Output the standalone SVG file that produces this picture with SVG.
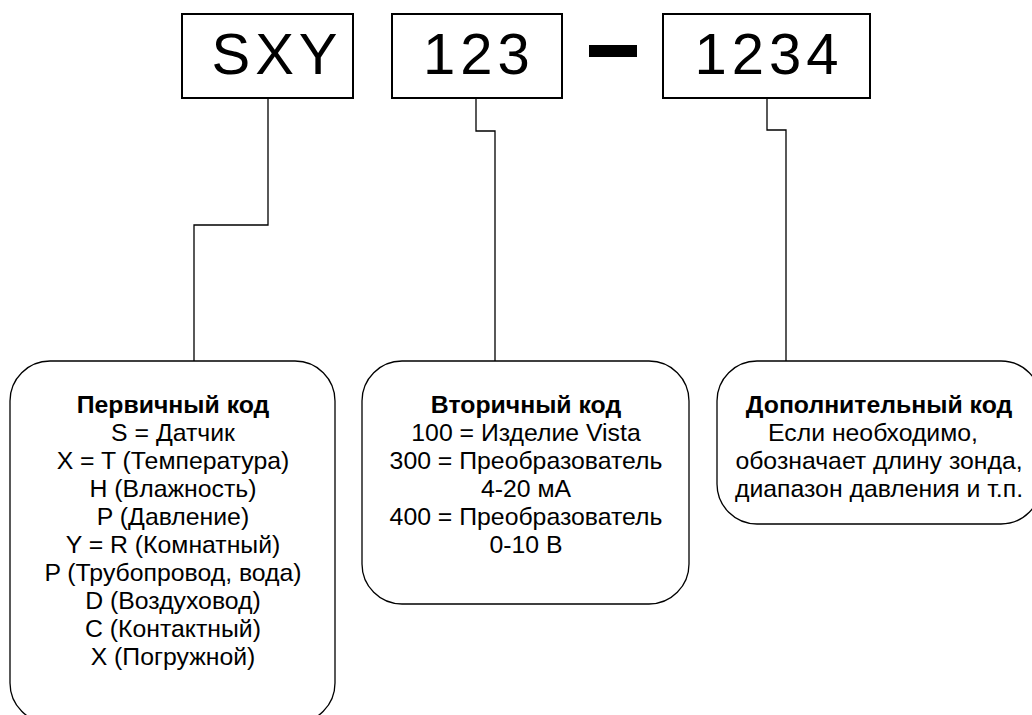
<svg xmlns="http://www.w3.org/2000/svg" width="1032" height="715" viewBox="0 0 1032 715">
<style>
.code{fill:#fff;stroke:#000;stroke-width:2}
.big{font-family:"Liberation Sans",Arial,sans-serif;font-size:58px;letter-spacing:5px;text-anchor:middle;fill:#000}
.card{fill:#fff;stroke:#000;stroke-width:1.3}
.t{font-family:"Liberation Sans",Arial,sans-serif;font-size:24.8px;text-anchor:middle;fill:#000}
.b{font-weight:bold}
.wire{fill:none;stroke:#000;stroke-width:1.3}
</style>
<rect width="1032" height="715" fill="#fff"/>
<g id="connectors">
<polyline class="wire" points="268,98 268,225 194,225 194,361"/>
<polyline class="wire" points="476,98 476,131 495,131 495,361"/>
<polyline class="wire" points="767,98 767,130 786,130 786,361"/>
</g>
<g id="code-sxy">
<rect class="code" x="182" y="14" width="171" height="84"/>
<text class="big" x="277" y="74">SXY</text>
</g>
<g id="code-123">
<rect class="code" x="392" y="14" width="170" height="84"/>
<text class="big" x="479" y="74">123</text>
</g>
<g id="dash">
<rect x="589" y="45" width="48" height="12" fill="#000"/>
</g>
<g id="code-1234">
<rect class="code" x="663" y="14" width="207" height="84"/>
<text class="big" x="769" y="74">1234</text>
</g>
<g id="primary">
<rect class="card" x="10" y="361" width="325" height="362" rx="40" ry="40"/>
<text class="t" x="173" y="413"><tspan class="b">Первичный код</tspan><tspan x="173" dy="28">S = Датчик</tspan><tspan x="173" dy="28">X = T (Температура)</tspan><tspan x="173" dy="28">H (Влажность)</tspan><tspan x="173" dy="28">P (Давление)</tspan><tspan x="173" dy="28">Y = R (Комнатный)</tspan><tspan x="173" dy="28">P (Трубопровод, вода)</tspan><tspan x="173" dy="28">D (Воздуховод)</tspan><tspan x="173" dy="28">C (Контактный)</tspan><tspan x="173" dy="28">X (Погружной)</tspan></text>
</g>
<g id="secondary">
<rect class="card" x="362" y="361" width="327" height="243" rx="40" ry="40"/>
<text class="t" x="526" y="413"><tspan class="b">Вторичный код</tspan><tspan x="526" dy="28">100 = Изделие Vista</tspan><tspan x="526" dy="28">300 = Преобразователь</tspan><tspan x="526" dy="28">4-20 мА</tspan><tspan x="526" dy="28">400 = Преобразователь</tspan><tspan x="526" dy="28">0-10 В</tspan></text>
</g>
<g id="additional">
<rect class="card" x="717" y="361" width="324" height="163" rx="40" ry="40"/>
<text class="t" x="879" y="413"><tspan class="b">Дополнительный код</tspan><tspan x="873" dy="28">Если необходимо,</tspan><tspan x="879" dy="28">обозначает длину зонда,</tspan><tspan x="879" dy="28">диапазон давления и т.п.</tspan></text>
</g>
</svg>
